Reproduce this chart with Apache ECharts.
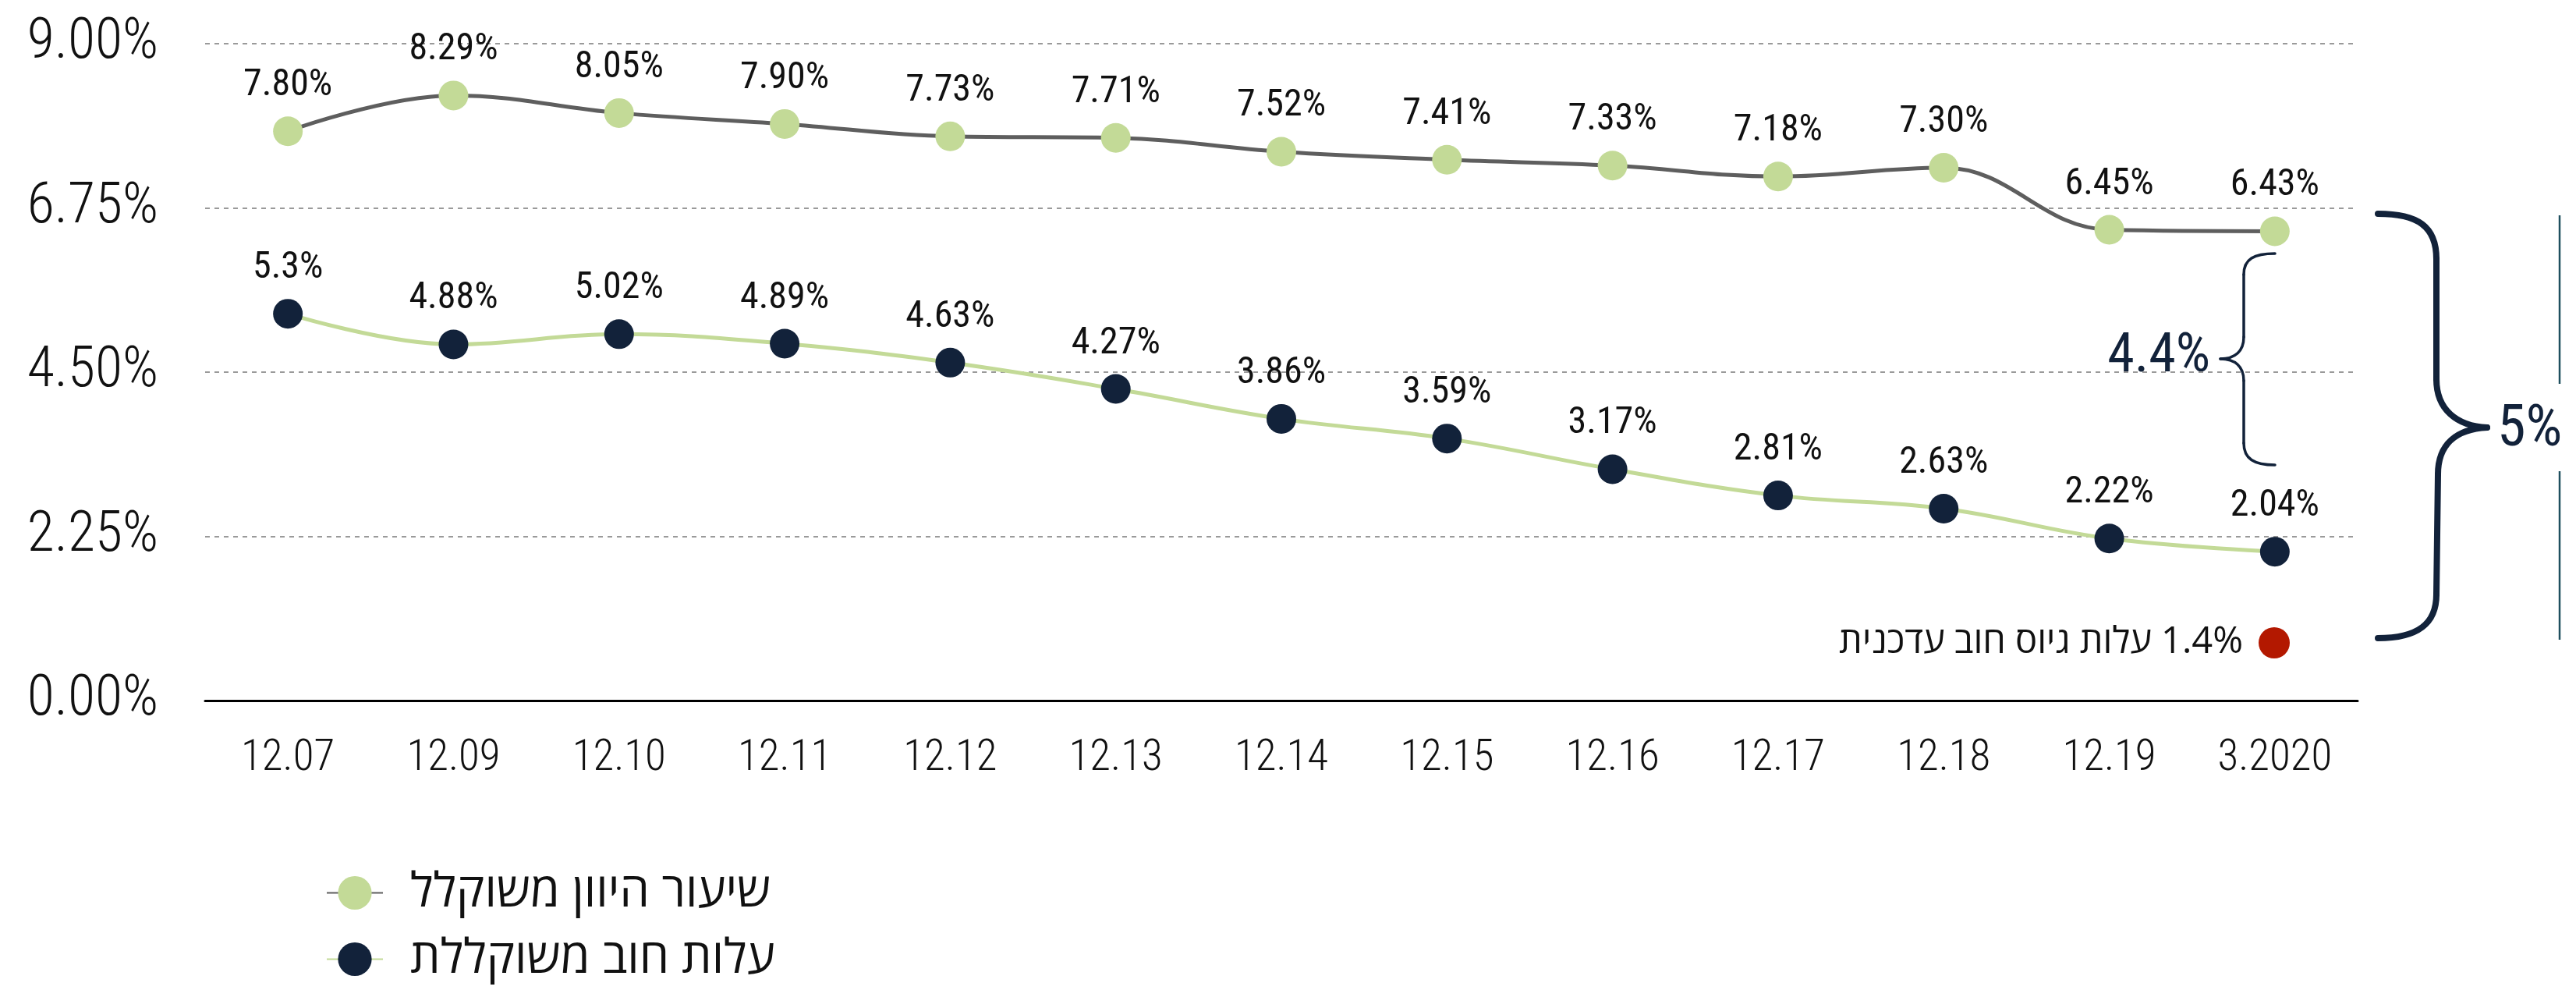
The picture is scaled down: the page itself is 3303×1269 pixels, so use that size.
<!DOCTYPE html>
<html>
<head>
<meta charset="utf-8">
<script src="https://cdn.jsdelivr.net/npm/echarts@6/dist/echarts.min.js"></script>
<style>
  html, body { margin: 0; padding: 0; background: #ffffff; }
  #chart { width: 3303px; height: 1269px; }
</style>
</head>
<body>
<div id="chart"></div>
<script>
// Period labels along the x axis
const categories = ['12.07', '12.09', '12.10', '12.11', '12.12', '12.13', '12.14', '12.15', '12.16', '12.17', '12.18', '12.19', '3.2020'];

// Weighted discount rate (%)
const discountRate = [7.80, 8.29, 8.05, 7.90, 7.73, 7.71, 7.52, 7.41, 7.33, 7.18, 7.30, 6.45, 6.43];

// Weighted cost of debt (%)
const debtCost = [5.3, 4.88, 5.02, 4.89, 4.63, 4.27, 3.86, 3.59, 3.17, 2.81, 2.63, 2.22, 2.04];

// Value axis ticks
const yMin = 0;
const yMax = 9;
const yStep = 2.25;

// Series names
const seriesNames = ['שיעור היוון משוקלל', 'עלות חוב משוקללת'];

// Side annotations
const spreadLabel = '4.4%';
const totalLabel = '5%';
const currentRaiseText = '\u200F1.4% עלות גיוס חוב עדכנית';

const NARROW = '"Roboto Condensed", "Liberation Sans Narrow", "Arial Narrow", "DejaVu Sans Condensed", sans-serif';
const HEB = '"Open Sans", "Liberation Sans", "DejaVu Sans", sans-serif';
const NAVY = '#12223a';
const GREEN = '#c3da97';
const GREY_LINE = '#5e5e5e';

// Build a curly brace out of straight and cubic pieces.
// Each piece: ['L', x1,y1,x2,y2] or ['C', x1,y1,cx1,cy1,cx2,cy2,x2,y2]
function bracePieces(pieces, color, width) {
  return pieces.map(p => {
    if (p[0] === 'L') {
      return { type: 'line', shape: { x1: p[1], y1: p[2], x2: p[3], y2: p[4] },
               style: { stroke: color, lineWidth: width, lineCap: 'round' } };
    }
    return { type: 'bezierCurve',
             shape: { x1: p[1], y1: p[2], cpx1: p[3], cpy1: p[4], cpx2: p[5], cpy2: p[6], x2: p[7], y2: p[8] },
             style: { stroke: color, fill: 'none', lineWidth: width, lineCap: 'round' } };
  });
}

const smallBrace = bracePieces([
  ['C', 2917, 325, 2890, 325, 2877, 332, 2877, 352],
  ['L', 2877, 352, 2877, 432],
  ['C', 2877, 432, 2877, 450, 2866, 460, 2847, 460],
  ['C', 2847, 460, 2866, 460, 2877, 470, 2877, 488],
  ['L', 2877, 488, 2877, 568],
  ['C', 2877, 568, 2877, 588, 2890, 596, 2917, 596]
], NAVY, 3.5);

const bigBrace = bracePieces([
  ['C', 3049, 274, 3100, 274, 3124, 290, 3124, 332],
  ['L', 3124, 332, 3124, 486],
  ['C', 3124, 486, 3124, 525, 3150, 546, 3189, 548],
  ['C', 3189, 548, 3150, 550, 3126, 569, 3126, 608],
  ['L', 3126, 608, 3124, 762],
  ['C', 3124, 762, 3124, 800, 3100, 818, 3049, 818]
], NAVY, 8);

const chart = echarts.init(document.getElementById('chart'), null, { renderer: 'canvas' });

const option = {
  backgroundColor: '#ffffff',
  animation: false,
  grid: { left: 263, right: 280, top: 56, bottom: 371, containLabel: false },
  legend: {
    orient: 'vertical',
    left: 418,
    top: 1114,
    height: 220,
    padding: 0,
    itemWidth: 72,
    itemHeight: 54,
    itemGap: 24,
    textStyle: { fontFamily: HEB, fontSize: 61, lineHeight: 54, color: '#111', padding: [0, 0, 0, 30] },
    data: seriesNames
  },
  xAxis: {
    type: 'category',
    data: categories,
    boundaryGap: true,
    axisLine: { show: true, lineStyle: { color: '#000', width: 3 } },
    axisTick: { show: false },
    axisLabel: { interval: 0, fontFamily: NARROW, fontWeight: 300, fontSize: 55, color: '#111', margin: 48 }
  },
  yAxis: {
    type: 'value',
    min: yMin,
    max: yMax,
    interval: yStep,
    axisLine: { show: false },
    axisTick: { show: false },
    splitLine: { show: true, lineStyle: { color: '#9a9a9a', width: 2, type: [6, 6] } },
    axisLabel: {
      fontFamily: NARROW, fontWeight: 300, fontSize: 72, color: '#111', margin: 60,
      formatter: v => v.toFixed(2) + '%'
    }
  },
  series: [
    {
      name: seriesNames[0],
      type: 'line',
      data: discountRate,
      smooth: 0.4,
      symbol: 'circle',
      symbolSize: 38,
      lineStyle: { color: GREY_LINE, width: 5 },
      itemStyle: { color: GREEN },
      label: {
        show: true, position: 'top', distance: 15,
        fontFamily: NARROW, fontSize: 48, color: '#111',
        formatter: p => p.value.toFixed(2) + '%'
      },
      z: 3
    },
    {
      name: seriesNames[1],
      type: 'line',
      data: debtCost,
      smooth: 0.4,
      symbol: 'circle',
      symbolSize: 38,
      lineStyle: { color: GREEN, width: 5 },
      itemStyle: { color: NAVY },
      label: {
        show: true, position: 'top', distance: 15,
        fontFamily: NARROW, fontSize: 48, color: '#111',
        formatter: p => String(p.value) + '%'
      },
      z: 3
    }
  ],
  graphic: [
    ...smallBrace,
    {
      type: 'text',
      x: 2834, y: 458,
      style: { text: spreadLabel, fontFamily: NARROW, fontSize: 70, fill: NAVY, align: 'right', verticalAlign: 'middle' }
    },
    ...bigBrace,
    {
      type: 'text',
      x: 3202, y: 552,
      style: { text: totalLabel, fontFamily: NARROW, fontSize: 74, fill: NAVY, align: 'left', verticalAlign: 'middle' }
    },
    // thin rules on the far right
    { type: 'line', shape: { x1: 3282, y1: 276, x2: 3282, y2: 492 }, style: { stroke: '#1f4f5e', lineWidth: 2.5 } },
    { type: 'line', shape: { x1: 3282, y1: 604, x2: 3282, y2: 820 }, style: { stroke: '#1f4f5e', lineWidth: 2.5 } },
    // current raise cost marker
    { type: 'circle', shape: { cx: 2916, cy: 824, r: 20 }, style: { fill: '#b31800' } },
    {
      type: 'text',
      x: 2876, y: 824,
      style: { text: currentRaiseText, fontFamily: HEB, fontSize: 47, fill: '#111', align: 'right', verticalAlign: 'middle' }
    }
  ]
};

chart.setOption(option);
</script>
</body>
</html>
